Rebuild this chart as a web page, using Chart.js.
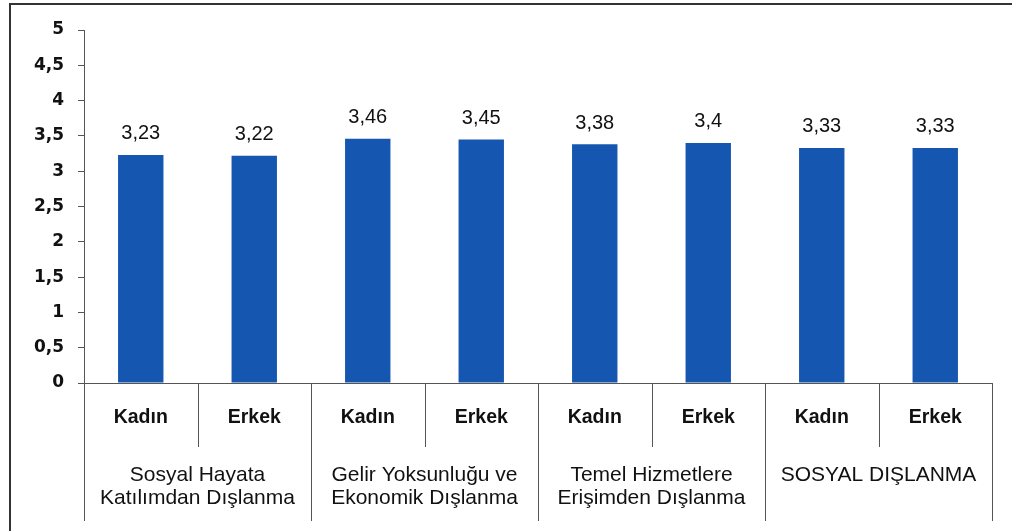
<!DOCTYPE html>
<html>
<head>
<meta charset="utf-8">
<script src="https://cdn.jsdelivr.net/npm/chart.js@4"></script>
<style>
  html, body { margin: 0; padding: 0; background: #fff; }
  #wrap { width: 1014px; height: 531px; position: relative; }
</style>
</head>
<body>
<div id="wrap"><canvas id="chart"></canvas></div>
<script>
const categories = ["Kadın", "Erkek", "Kadın", "Erkek", "Kadın", "Erkek", "Kadın", "Erkek"];
const values = [3.23, 3.22, 3.46, 3.45, 3.38, 3.4, 3.33, 3.33];
const groups = [
  ["Sosyal Hayata", "Katılımdan Dışlanma"],
  ["Gelir Yoksunluğu ve", "Ekonomik Dışlanma"],
  ["Temel Hizmetlere", "Erişimden Dışlanma"],
  ["SOSYAL DIŞLANMA"]
];
const yTicks = [0, 0.5, 1, 1.5, 2, 2.5, 3, 3.5, 4, 4.5, 5];

const FONT = "'Liberation Sans', Arial, sans-serif";
const comma = (v) => String(v).replace(".", ",");

// value labels above the bars
const valueLabels = {
  id: "valueLabels",
  afterDatasetsDraw(chart) {
    const ctx = chart.ctx;
    const meta = chart.getDatasetMeta(0);
    ctx.save();
    ctx.font = "20px " + FONT;
    ctx.fillStyle = "#111";
    ctx.textAlign = "center";
    ctx.textBaseline = "middle";
    meta.data.forEach((bar, i) => {
      ctx.fillText(comma(values[i]), bar.x, bar.y - 21);
    });
    ctx.restore();
  }
};

// separators, group labels and outer frame
const multiAxis = {
  id: "multiAxis",
  afterDraw(chart) {
    const ctx = chart.ctx;
    const x = chart.scales.x;
    const area = chart.chartArea;
    const step = (x.getPixelForValue(1) - x.getPixelForValue(0));
    ctx.save();
    ctx.strokeStyle = "#555";
    ctx.lineWidth = 1;
    for (let i = 0; i <= categories.length; i++) {
      const px = Math.round(x.getPixelForValue(i) - step / 2) + 0.5;
      const long = i % 2 === 0;
      ctx.beginPath();
      ctx.moveTo(px, area.bottom);
      ctx.lineTo(px, long ? 521 : 447);
      ctx.stroke();
    }
    ctx.font = "21px " + FONT;
    ctx.fillStyle = "#111";
    ctx.textAlign = "center";
    ctx.textBaseline = "middle";
    groups.forEach((lines, g) => {
      const cx = (x.getPixelForValue(g * 2) + x.getPixelForValue(g * 2 + 1)) / 2;
      lines.forEach((t, k) => ctx.fillText(t, cx, 475 + k * 23));
    });
    // frame
    ctx.strokeStyle = "#333";
    ctx.lineWidth = 2;
    ctx.beginPath();
    ctx.moveTo(10, 531);
    ctx.lineTo(10, 4);
    ctx.lineTo(1012, 4);
    ctx.stroke();
    ctx.restore();
  }
};

new Chart(document.getElementById("chart"), {
  type: "bar",
  data: {
    labels: categories,
    datasets: [{
      data: values,
      backgroundColor: "#1557b0",
      barPercentage: 0.4,
      categoryPercentage: 1
    }]
  },
  options: {
    responsive: true,
    maintainAspectRatio: false,
    animation: false,
    layout: { padding: { left: 10, right: 22, top: 30, bottom: 0 } },
    plugins: { legend: { display: false }, tooltip: { enabled: false } },
    scales: {
      x: {
        grid: { display: false },
        border: { color: "#555" },
        ticks: { font: { family: FONT, size: 19.5, weight: "bold" }, color: "#111", padding: 15, maxRotation: 0 },
        afterFit(s) { s.height = 148; }
      },
      y: {
        min: 0,
        max: 5,
        afterBuildTicks(s) { s.ticks = yTicks.map((v) => ({ value: v })); },
        grid: { drawOnChartArea: false, tickLength: 6, color: "#555" },
        border: { color: "#555" },
        ticks: {
          font: { family: "'DejaVu Sans', sans-serif", size: 17, weight: "bold" },
          color: "#111",
          padding: 14,
          callback: (v) => comma(v)
        },
        afterFit(s) { s.width = 74; }
      }
    }
  },
  plugins: [valueLabels, multiAxis]
});
</script>
</body>
</html>
